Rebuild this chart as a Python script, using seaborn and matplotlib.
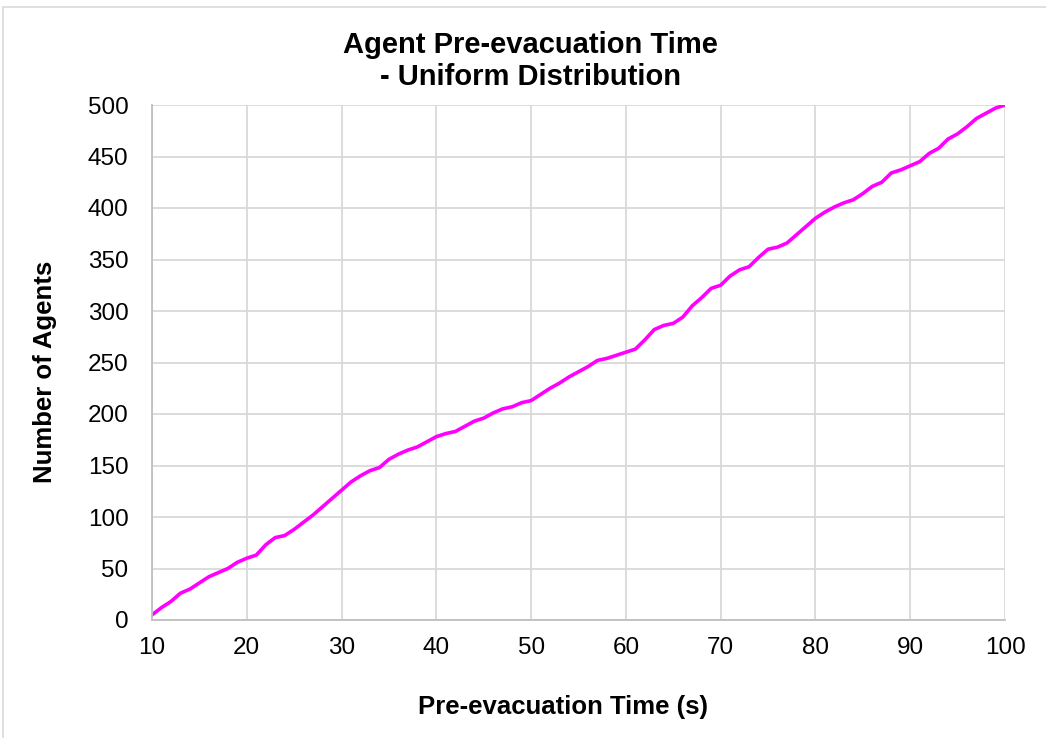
import numpy as np
import pandas as pd
import seaborn as sns
import matplotlib.pyplot as plt
from matplotlib.patches import Rectangle

# pre-evacuation time (s) and cumulative number of agents
times = list(range(10, 101))
agents = [5, 12, 18, 26, 30, 36, 42, 46, 50, 56,
          60, 63, 73, 80, 82, 88, 95, 102, 110, 118,
          126, 134, 140, 145, 148, 156, 161, 165, 168, 173,
          178, 181, 183, 188, 193, 196, 201, 205, 207, 211,
          213, 219, 225, 230, 236, 241, 246, 252, 254, 257,
          260, 263, 272, 282, 286, 288, 294, 305, 313, 322,
          325, 334, 340, 343, 352, 360, 362, 366, 374, 382,
          390, 396, 401, 405, 408, 414, 421, 425, 434, 437,
          441, 445, 453, 458, 467, 472, 479, 487, 492, 497,
          500]

x_ticks = list(range(10, 101, 10))
y_ticks = list(range(0, 501, 50))

df = pd.DataFrame({'Time': times, 'Agents': agents})

sns.set_style("white")
plt.rcParams['font.family'] = ['Liberation Sans', 'DejaVu Sans']
plt.rcParams['text.color'] = 'black'

fig = plt.figure(figsize=(10.46, 7.38), dpi=100)
ax = fig.add_axes([152 / 1046, 1 - 620 / 738, (1005 - 152) / 1046, (620 - 105) / 738])

sns.lineplot(data=df, x='Time', y='Agents', ax=ax, color='#ff00ff', linewidth=2.6)

ax.set_xlim(10, 100)
ax.set_ylim(0, 500)
ax.set_xticks(x_ticks)
ax.set_yticks(y_ticks)
ax.grid(True, color='#d9d9d9', linewidth=1.3)
ax.set_axisbelow(True)
for side in ['top', 'right']:
    ax.spines[side].set_visible(False)
for side in ['left', 'bottom']:
    ax.spines[side].set_color('#bfbfbf')
    ax.spines[side].set_linewidth(1.3)
ax.tick_params(axis='x', length=6, width=1.3, color='#bfbfbf', labelsize=17.5,
               labelcolor='black', pad=6)
ax.tick_params(axis='y', length=0, labelsize=17.5, labelcolor='black', pad=17)

ax.set_xlabel('Pre-evacuation Time (s)', fontsize=18.5, fontweight='bold', color='black')
ax.set_ylabel('Number of Agents', fontsize=18.5, fontweight='bold', color='black')
ax.xaxis.set_label_coords(563 / 1046, 1 - 707 / 738, transform=fig.transFigure)
ax.yaxis.set_label_coords(45 / 1046, 1 - 372 / 738, transform=fig.transFigure)
ax.xaxis.label.set_va('center')
ax.yaxis.label.set_va('center')

fig.text(530 / 1046, 1 - 61 / 738, 'Agent Pre-evacuation Time\n- Uniform Distribution',
         ha='center', va='center', fontsize=21, fontweight='bold', linespacing=1.15,
         color='black')

# chart border (only top and left edges fall inside the image)
fig.patches.append(Rectangle((3 / 1046, -0.05), 1.2, 1 - 7 / 738 + 0.05,
                             transform=fig.transFigure, fill=False,
                             edgecolor='#d9d9d9', linewidth=1.2))

fig.savefig('out.png', dpi=100)
